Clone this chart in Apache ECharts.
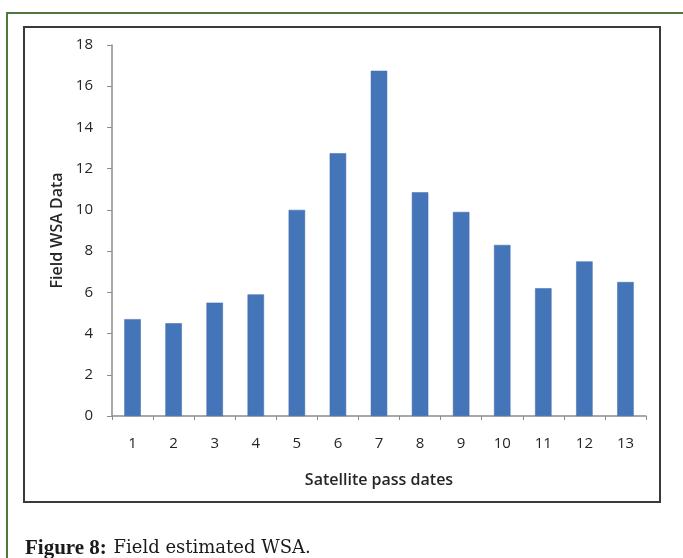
<!DOCTYPE html>
<html>
<head>
<meta charset="utf-8">
<script src="https://cdn.jsdelivr.net/npm/echarts@6/dist/echarts.min.js"></script>
<style>
  html, body { margin: 0; padding: 0; background: #ffffff; }
  #chart { width: 683px; height: 558px; }
</style>
</head>
<body>
<div id="chart"></div>
<script>
// Satellite pass dates and field-measured WSA values
const passDates = ['1', '2', '3', '4', '5', '6', '7', '8', '9', '10', '11', '12', '13'];
const fieldWSA = [4.7, 4.5, 5.5, 5.9, 10.0, 12.75, 16.75, 10.85, 9.9, 8.3, 6.2, 7.5, 6.5];
const yTicks = { min: 0, max: 18, interval: 2 };

const chart = echarts.init(document.getElementById('chart'), null, { renderer: 'canvas' });

const axisFont = 'Open Sans, Lato, sans-serif';
const textColor = '#262626';

chart.setOption({
  backgroundColor: '#ffffff',
  animation: false,
  grid: { left: 112, right: 37, top: 45, bottom: 142, containLabel: false },
  xAxis: {
    type: 'category',
    data: passDates,
    boundaryGap: true,
    name: 'Satellite pass dates',
    nameLocation: 'middle',
    nameGap: 56,
    nameTextStyle: { color: textColor, fontFamily: axisFont, fontSize: 16, fontWeight: 600 },
    axisLine: { lineStyle: { color: '#8c8c8c', width: 1.5 } },
    axisTick: { show: true, alignWithLabel: false, length: 4, lineStyle: { color: '#8c8c8c' } },
    axisLabel: { color: textColor, fontFamily: axisFont, fontSize: 15, margin: 20 }
  },
  yAxis: {
    type: 'value',
    min: yTicks.min,
    max: yTicks.max,
    interval: yTicks.interval,
    name: 'Field WSA Data',
    nameLocation: 'middle',
    nameGap: 38,
    nameTextStyle: { color: textColor, fontFamily: axisFont, fontSize: 16, fontWeight: 600 },
    axisLine: { show: true, lineStyle: { color: '#8c8c8c', width: 1.5 } },
    axisTick: { show: true, length: 5, lineStyle: { color: '#8c8c8c' } },
    axisLabel: { color: textColor, fontFamily: axisFont, fontSize: 15, margin: 19 },
    splitLine: { show: false }
  },
  series: [{
    type: 'bar',
    data: fieldWSA,
    barWidth: '40%',
    itemStyle: { color: '#4575b9', borderColor: '#3d68a8', borderWidth: 0.5 }
  }],
  graphic: [
    // green outer border (left and top edges)
    { type: 'line', shape: { x1: 7, y1: 13, x2: 7, y2: 558 }, style: { stroke: '#4d7a3c', lineWidth: 2 } },
    { type: 'line', shape: { x1: 6, y1: 13, x2: 683, y2: 13 }, style: { stroke: '#4d7a3c', lineWidth: 2 } },
    // chart frame
    { type: 'rect', shape: { x: 24, y: 27, width: 636, height: 475 }, style: { fill: 'none', stroke: '#3a3a3a', lineWidth: 2 } },
    // caption
    {
      type: 'text', left: 25, top: 538,
      style: {
        text: '{b|Figure 8:}  {n|Field estimated WSA.}',
        rich: {
          b: { fontFamily: 'Liberation Serif, serif', fontSize: 21, fontWeight: 'bold', fill: '#1a1a1a' },
          n: { fontFamily: 'DejaVu Serif, serif', fontSize: 18, fill: '#1a1a1a' }
        }
      }
    }
  ]
});
</script>
</body>
</html>
